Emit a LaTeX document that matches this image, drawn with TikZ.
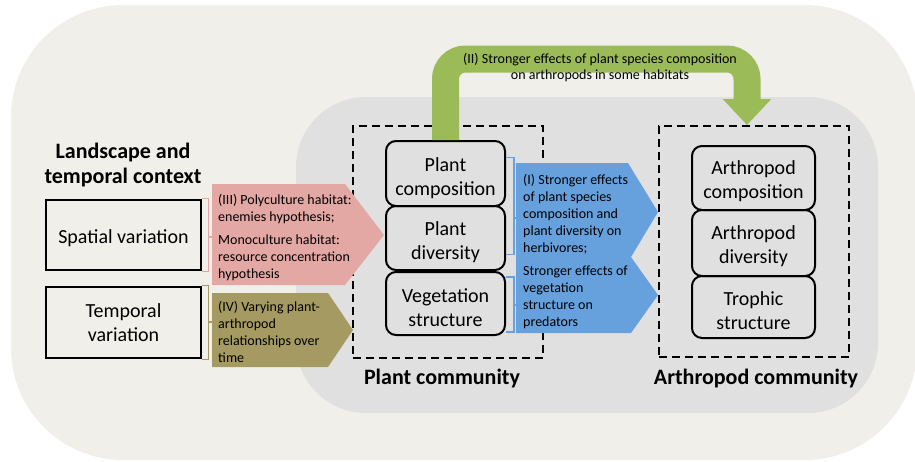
\documentclass[tikz,border=0pt]{standalone}
\usepackage{fontspec}
\setmainfont{Carlito}
\usetikzlibrary{arrows.meta}
\definecolor{bgbeige}{HTML}{F1EFE9}
\definecolor{bggray}{HTML}{E0E0E0}
\definecolor{apink}{HTML}{E3A8A4}
\definecolor{aolive}{HTML}{A59B62}
\definecolor{ablue}{HTML}{66A0DD}
\definecolor{agreen}{HTML}{9BBB59}
\newcommand{\tallP}{\rule{0pt}{23pt}}
\newcommand{\tallA}{\rule{0pt}{21pt}}
\tikzset{
  itembox/.style={draw, line width=2pt, rounded corners=10pt, align=center, inner sep=0pt,
    font=\fontsize{20pt}{24pt}\selectfont},
  ctxbox/.style={draw, line width=2.5pt, align=center, inner sep=0pt,
    minimum width=155pt, font=\fontsize{20pt}{24pt}\selectfont},
  dashbox/.style={draw, line width=2pt, dash pattern=on 8pt off 5pt, inner sep=0pt},
  heading/.style={font=\bfseries\fontsize{22pt}{24.5pt}\selectfont, align=center, inner sep=0pt},
  small/.style={font=\fontsize{14pt}{17pt}\selectfont, align=left, anchor=west, inner sep=0pt},
  bracket/.style={line width=1.2pt},
}
\begin{document}
\begin{tikzpicture}[x=1pt,y=-1pt]
\useasboundingbox (0,0) rectangle (915,461);
% backgrounds
\fill[bgbeige, rounded corners=112pt] (11,5) rectangle (917,460);
\fill[bggray, rounded corners=70pt] (296,97) rectangle (878,413);

% dashed community boxes
\node[dashbox, minimum width=190pt, minimum height=232pt] (pbox) at (448,242) {};
\node[dashbox, minimum width=190pt, minimum height=231pt] (abox) at (754,241.5) {};

% headings
\node[heading] (lhead) at (123,165) {Landscape and\\temporal context};
\node[heading] (phead) at (442,379) {Plant community};
\node[heading] (ahead) at (756,379) {Arthropod community};

% context boxes
\node[ctxbox, minimum height=70pt] (spatial) at (123.5,235) {\tallA Spatial variation};
\node[ctxbox, minimum height=71pt] (temporal) at (123.5,322.5) {Temporal\\variation};

% colored arrows
\fill[apink] (212,184) -- (345,184) -- (384,235) -- (345,285) -- (212,285) -- cycle;
\fill[aolive] (212,293) -- (328,293) -- (353,330) -- (328,367) -- (212,367) -- cycle;
\fill[ablue] (516,163) -- (628,163) -- (658,212) -- (631,257) -- (658,295) -- (631,333) -- (516,333) -- cycle;
\coordinate (pinkin) at (212,237);
\coordinate (olivein) at (212,322);
\coordinate (bluein1) at (516,218);
\coordinate (bluein2) at (516,305);

% plant boxes
\node[itembox, minimum width=119pt, minimum height=65pt] (pcomp) at (445.5,173.5) {\tallP Plant\\composition};
\node[itembox, minimum width=119pt, minimum height=64pt] (pdiv) at (445.5,238) {\tallP Plant\\diversity};
\node[itembox, minimum width=119pt, minimum height=63pt] (pveg) at (445.5,303.5) {\tallP Vegetation\\structure};

% green arrow
\draw[line width=27pt, agreen, rounded corners=20pt, -{Triangle[width=47pt,length=26pt]}]
  (pcomp.north) |- (600,59) -| ([xshift=-7pt]abox.north);
\node[font=\fontsize{14pt}{16pt}\selectfont, align=center, inner sep=0pt] (gtext) at (600,67.5)
  {(II) Stronger effects of plant species composition\\on arthropods in some habitats};

% arthropod boxes
\node[itembox, minimum width=123pt, minimum height=64pt] (acomp) at (753.5,178) {\tallA Arthropod\\composition};
\node[itembox, minimum width=123pt, minimum height=66pt] (adiv) at (753.5,243) {\tallA Arthropod\\diversity};
\node[itembox, minimum width=123pt, minimum height=62pt] (atro) at (753.5,307) {\tallA Trophic\\structure};

% arrow texts
\node[small] (pinkA) at (218,209.5) {(III) Polyculture habitat:\\enemies hypothesis;};
\node[small] (pinkB) at (218,258) {Monoculture habitat:\\resource concentration\\hypothesis};
\node[small] (olivet) at (218,332) {(IV) Varying plant-\\arthropod\\relationships over\\time};
\node[small] (blueA) at (523,214.5) {(I) Stronger effects\\of plant species\\composition and\\plant diversity on\\herbivores;};
\node[small] (blueB) at (523,297.5) {Stronger effects of\\vegetation\\structure on\\predators};

% brackets
\draw[bracket, apink] (spatial.north east) -- ++(6,0) -- ([xshift=6pt]spatial.south east) -- (spatial.south east);
\draw[bracket, apink] ([xshift=6pt]spatial.east |- pinkin) -- (pinkin);
\draw[bracket, aolive] (temporal.north east) -- ++(6,0) -- ([xshift=6pt]temporal.south east) -- (temporal.south east);
\draw[bracket, aolive] ([xshift=6pt]temporal.east |- olivein) -- (olivein);
\draw[bracket, ablue] ([yshift=-17.5pt]pcomp.north east) -- ++(8,0) -- ++(0,97) -- ++(-8,0);
\draw[bracket, ablue] (513,218) -- (bluein1);
\draw[bracket, ablue] ([yshift=-6pt]pveg.north east) -- ++(8,0) -- ++(0,55) -- ++(-8,0);
\draw[bracket, ablue] (513,305) -- (bluein2);
\end{tikzpicture}
\end{document}
